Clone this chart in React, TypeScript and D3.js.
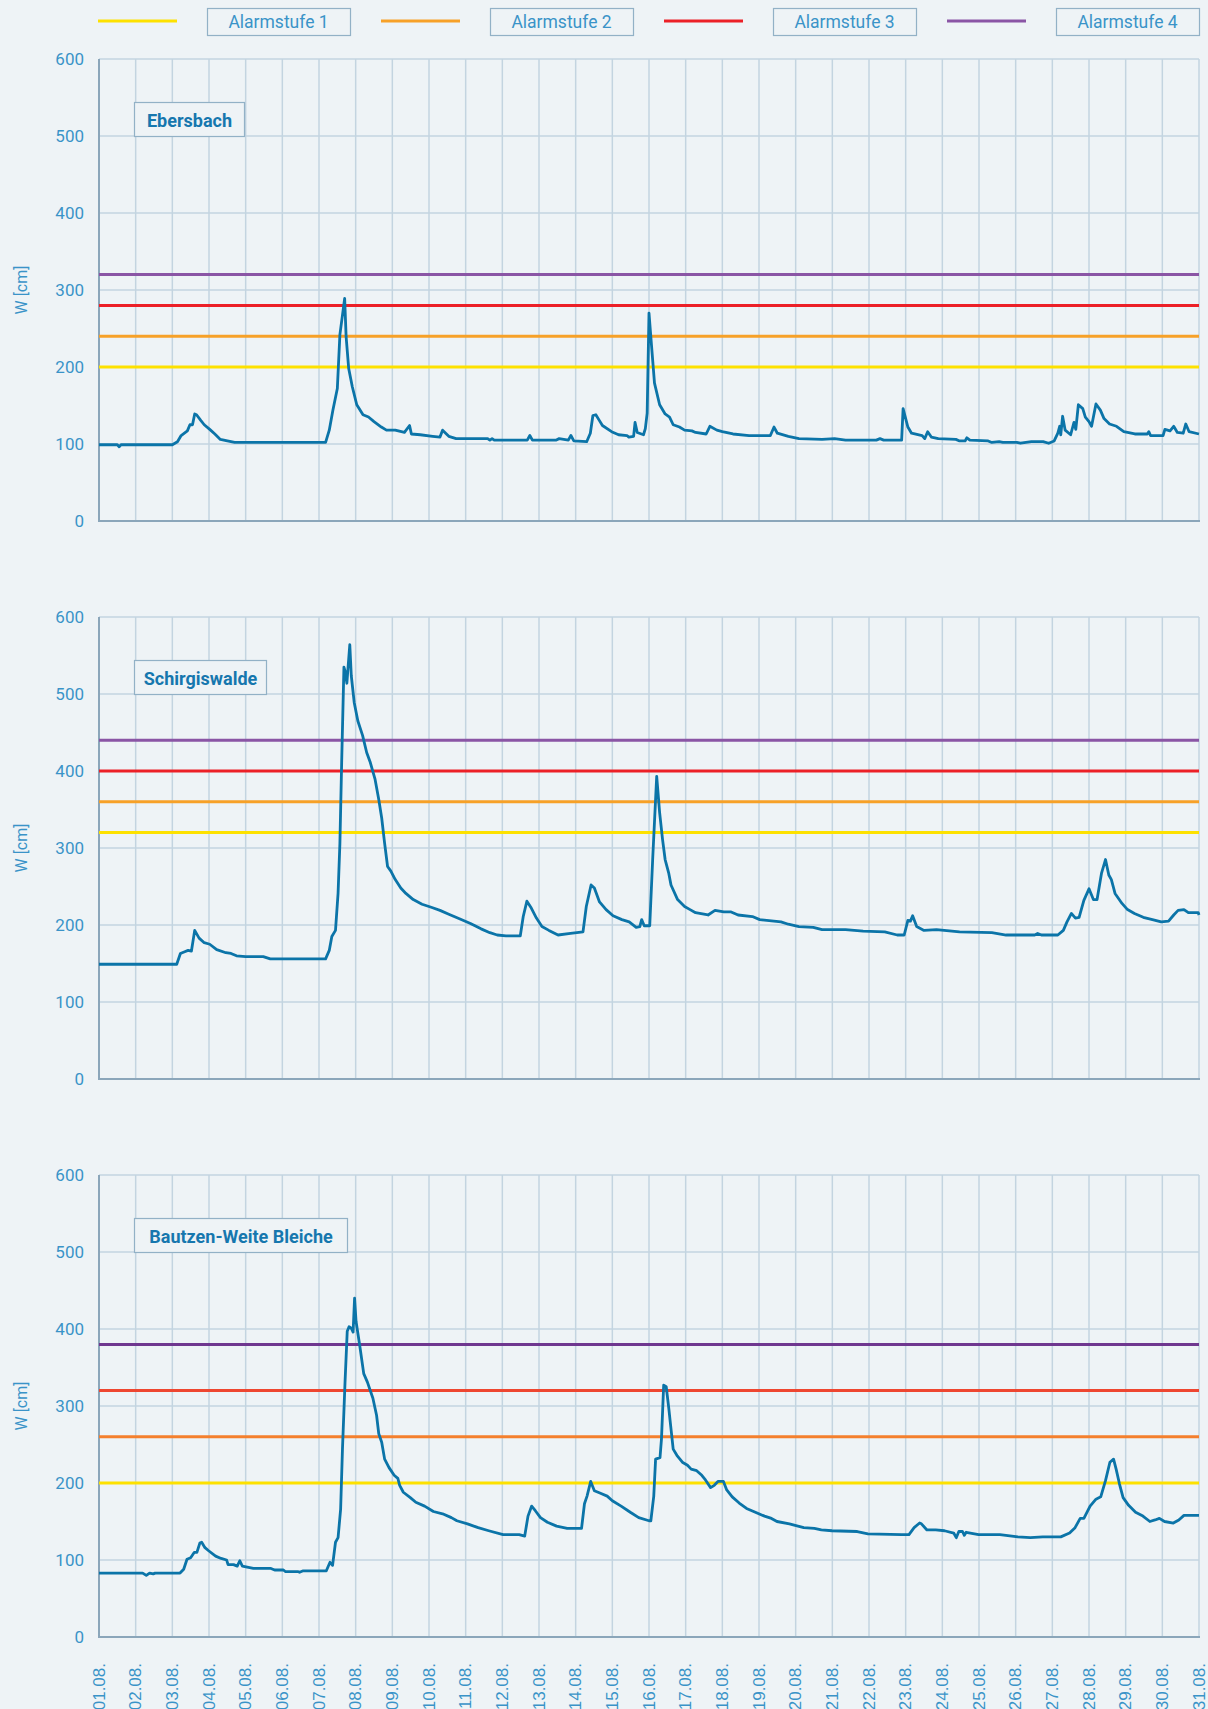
import { useEffect, useRef } from 'react'
import * as d3 from 'd3'

// ── Data (day offset from 01.08., water level W in cm) ───────────────────
const ebersbach: [number, number][] = [
  [0, 99], [0.5, 99], [0.55, 96.5], [0.6, 99], [2.0, 99], [2.14, 103], [2.24, 111], [2.41, 117], [2.48, 125],
  [2.55, 125], [2.61, 139], [2.66, 138], [2.77, 131], [2.87, 125], [3.02, 119], [3.16, 113], [3.31, 106],
  [3.5, 104], [3.7, 102], [6.18, 102], [6.28, 118], [6.38, 144], [6.5, 172], [6.57, 242], [6.7, 289],
  [6.74, 239], [6.81, 198], [6.91, 174], [7.03, 151], [7.2, 138], [7.35, 135], [7.5, 129], [7.7, 122],
  [7.84, 118], [8.08, 118], [8.33, 115], [8.47, 124], [8.52, 113], [8.76, 112], [9.1, 110], [9.3, 109],
  [9.37, 118], [9.54, 110], [9.74, 107], [10.6, 107], [10.66, 105], [10.72, 107], [10.78, 105], [11.68, 105],
  [11.75, 111], [11.82, 105], [12.46, 105], [12.55, 107], [12.8, 105], [12.87, 111], [12.95, 104], [13.3, 103],
  [13.4, 114], [13.47, 137], [13.55, 138], [13.64, 131], [13.73, 124], [13.98, 116], [14.17, 112], [14.4, 111],
  [14.45, 109], [14.58, 110], [14.62, 128], [14.68, 115], [14.85, 112], [14.9, 120], [14.95, 140], [15.0, 270],
  [15.05, 239], [15.15, 179], [15.29, 151], [15.44, 139], [15.56, 135], [15.66, 125], [15.83, 122], [15.97, 118],
  [16.17, 117], [16.27, 115], [16.56, 113], [16.66, 123], [16.85, 118], [17.0, 116], [17.29, 113], [17.73, 111],
  [18.31, 111], [18.41, 122], [18.5, 114], [18.8, 110], [19.09, 107], [19.72, 106], [20.06, 107], [20.36, 105],
  [21.2, 105], [21.3, 107], [21.4, 105], [21.89, 105], [21.93, 146], [22.06, 122], [22.16, 114], [22.45, 111],
  [22.52, 107], [22.6, 116], [22.7, 109], [22.89, 107], [23.37, 106], [23.47, 104], [23.62, 104], [23.67, 108],
  [23.75, 105], [24.25, 104], [24.35, 102], [24.55, 103], [24.65, 102], [25.03, 102], [25.13, 101], [25.43, 103],
  [25.75, 103], [25.9, 101], [26.05, 104], [26.15, 114], [26.2, 123], [26.23, 112], [26.28, 136], [26.35, 118],
  [26.5, 112], [26.59, 128], [26.64, 119], [26.71, 151], [26.83, 146], [26.9, 135], [27.0, 129], [27.07, 123],
  [27.19, 152], [27.31, 144], [27.41, 133], [27.56, 126], [27.75, 123], [27.95, 116], [28.25, 113], [28.59, 113],
  [28.63, 116], [28.68, 111], [29.02, 111], [29.07, 119], [29.21, 117], [29.31, 123], [29.41, 115], [29.57, 114],
  [29.64, 126], [29.73, 116], [30.0, 113],
]

const schirgiswalde: [number, number][] = [
  [0, 149], [2.12, 149], [2.22, 163], [2.32, 165], [2.43, 167], [2.52, 166], [2.61, 193], [2.73, 183], [2.87, 177],
  [3.02, 175], [3.21, 168], [3.46, 164], [3.6, 163], [3.75, 160], [4.0, 159], [4.48, 159], [4.67, 156], [6.18, 156],
  [6.28, 167], [6.35, 185], [6.45, 193], [6.52, 241], [6.57, 306], [6.62, 415], [6.68, 535], [6.72, 528],
  [6.76, 514], [6.84, 564], [6.88, 524], [6.96, 489], [7.06, 465], [7.19, 446], [7.3, 424], [7.4, 411],
  [7.53, 389], [7.63, 363], [7.71, 339], [7.79, 306], [7.87, 276], [7.96, 270], [8.08, 259], [8.23, 248],
  [8.37, 241], [8.57, 233], [8.81, 227], [9.06, 223], [9.3, 219], [9.54, 214], [9.83, 208], [10.13, 202],
  [10.42, 195], [10.66, 190], [10.86, 187], [11.1, 186], [11.49, 186], [11.57, 211], [11.67, 231], [11.79, 222],
  [11.93, 209], [12.08, 198], [12.27, 193], [12.52, 187], [12.86, 189], [13.2, 191], [13.29, 224], [13.42, 252],
  [13.51, 248], [13.65, 230], [13.83, 220], [14.02, 212], [14.26, 207], [14.46, 204], [14.65, 197], [14.75, 198],
  [14.8, 207], [14.87, 199], [15.02, 199], [15.1, 285], [15.21, 393], [15.29, 346], [15.37, 311], [15.44, 285],
  [15.54, 267], [15.6, 252], [15.78, 233], [15.97, 224], [16.12, 220], [16.27, 216], [16.61, 213], [16.8, 219],
  [17.04, 217], [17.24, 217], [17.43, 213], [17.82, 211], [18.02, 207], [18.6, 204], [18.8, 201], [19.09, 198],
  [19.48, 197], [19.72, 194], [20.36, 194], [20.84, 192], [21.43, 191], [21.77, 187], [21.96, 187], [22.06, 206],
  [22.13, 205], [22.19, 212], [22.3, 198], [22.5, 193], [22.84, 194], [23.47, 191], [24.35, 190], [24.74, 187],
  [25.52, 187], [25.6, 189], [25.7, 187], [26.15, 187], [26.3, 193], [26.4, 204], [26.52, 215], [26.63, 209],
  [26.73, 210], [26.86, 232], [27.0, 247], [27.12, 233], [27.22, 233], [27.34, 267], [27.45, 285], [27.54, 265],
  [27.61, 259], [27.71, 241], [27.9, 228], [28.05, 220], [28.24, 215], [28.48, 210], [28.73, 207], [28.97, 204],
  [29.17, 205], [29.31, 213], [29.43, 219], [29.59, 220], [29.71, 216], [29.98, 216], [30.0, 213],
]

const bautzen: [number, number][] = [
  [0, 83], [1.19, 83], [1.29, 80], [1.38, 83], [1.48, 82], [1.53, 83], [2.21, 83], [2.31, 88], [2.4, 101],
  [2.5, 103], [2.6, 110], [2.67, 110], [2.75, 122], [2.8, 123], [2.89, 116], [2.99, 112], [3.18, 105],
  [3.33, 102], [3.48, 100], [3.52, 94], [3.67, 94], [3.77, 92], [3.84, 99], [3.91, 92], [4.21, 89], [4.69, 89],
  [4.79, 87], [5.03, 87], [5.08, 85], [5.42, 85], [5.47, 84], [5.57, 86], [6.2, 86], [6.3, 97], [6.37, 93],
  [6.45, 123], [6.52, 129], [6.59, 166], [6.64, 244], [6.71, 331], [6.77, 397], [6.82, 403], [6.88, 401],
  [6.93, 396], [6.97, 440], [7.01, 410], [7.11, 379], [7.22, 342], [7.32, 331], [7.47, 310], [7.57, 288],
  [7.63, 264], [7.71, 253], [7.79, 231], [7.91, 220], [8.05, 210], [8.15, 206], [8.2, 197], [8.3, 188],
  [8.49, 181], [8.64, 175], [8.88, 170], [9.12, 163], [9.37, 160], [9.61, 155], [9.76, 151], [10.05, 147],
  [10.34, 142], [10.63, 138], [11.02, 133], [11.46, 133], [11.61, 131], [11.7, 157], [11.8, 170], [11.9, 164],
  [12.04, 155], [12.23, 149], [12.48, 144], [12.77, 141], [13.16, 141], [13.24, 173], [13.31, 183], [13.41, 202],
  [13.51, 190], [13.66, 187], [13.86, 183], [14.0, 177], [14.24, 170], [14.49, 162], [14.72, 155], [15.0, 151],
  [15.05, 151], [15.13, 183], [15.18, 231], [15.3, 233], [15.34, 257], [15.4, 327], [15.47, 325], [15.54, 297],
  [15.58, 279], [15.66, 244], [15.76, 236], [15.91, 227], [16.05, 223], [16.15, 218], [16.3, 216], [16.44, 210],
  [16.54, 204], [16.68, 194], [16.78, 197], [16.88, 202], [17.03, 202], [17.12, 191], [17.27, 182], [17.46, 174],
  [17.66, 167], [17.9, 162], [18.15, 157], [18.34, 154], [18.49, 150], [18.83, 147], [19.22, 142], [19.51, 141],
  [19.7, 139], [19.99, 138], [20.68, 137], [20.97, 134], [21.89, 133], [22.09, 133], [22.23, 142], [22.38, 148],
  [22.43, 147], [22.58, 139], [22.82, 139], [23.06, 138], [23.31, 135], [23.38, 129], [23.45, 137], [23.55, 137],
  [23.6, 132], [23.65, 136], [23.99, 133], [24.57, 133], [25.06, 130], [25.4, 129], [25.74, 130], [26.23, 130],
  [26.47, 135], [26.62, 142], [26.76, 154], [26.86, 154], [27.03, 170], [27.19, 179], [27.32, 182], [27.45, 203],
  [27.57, 227], [27.67, 231], [27.74, 218], [27.83, 199], [27.93, 181], [28.08, 171], [28.27, 162], [28.47, 157],
  [28.66, 150], [28.8, 152], [28.92, 154], [29.06, 150], [29.3, 148], [29.45, 152], [29.59, 158], [30.0, 158],
]

const stations = ['Ebersbach', 'Schirgiswalde', 'Bautzen-Weite Bleiche']
const series = [ebersbach, schirgiswalde, bautzen]
// Alarmstufe 1..4 per station
const alarmLevels = [
  [200, 240, 280, 320],
  [320, 360, 400, 440],
  [200, 260, 320, 380],
]
const legendLabels = ['Alarmstufe 1', 'Alarmstufe 2', 'Alarmstufe 3', 'Alarmstufe 4']
const dayLabels = [
  '01.08.', '02.08.', '03.08.', '04.08.', '05.08.', '06.08.', '07.08.', '08.08.', '09.08.', '10.08.',
  '11.08.', '12.08.', '13.08.', '14.08.', '15.08.', '16.08.', '17.08.', '18.08.', '19.08.', '20.08.',
  '21.08.', '22.08.', '23.08.', '24.08.', '25.08.', '26.08.', '27.08.', '28.08.', '29.08.', '30.08.', '31.08.',
]
const yTicks = [0, 100, 200, 300, 400, 500, 600]

// ── Layout / style ───────────────────────────────────────────────────────
const W = 1208
const H = 1709
const X0 = 99
const X1 = 1199
const PANEL_TOP = [59, 617, 1175]
const PANEL_H = 462
const LABEL_BOX_W = [110, 132, 213]
const BG = '#eef3f6'
const GRID = '#c3d4e0'
const AXIS = '#8ba6ba'
const TXT = '#3a93c8'
const TXT_DARK = '#1677ae'
const LINE = '#0b74a8'
const ALARM_COLORS = [
  ['#fde100', '#f7a128', '#ec2027', '#8a55a5'],
  ['#fde100', '#f7a128', '#ec2027', '#8a55a5'],
  ['#fde100', '#f47f2d', '#ee4630', '#6f378f'],
]
const FONT = 'Roboto, "Open Sans", sans-serif'

function Chart() {
  const ref = useRef<SVGSVGElement>(null)

  useEffect(() => {
    if (!ref.current) return
    const svg = d3.select(ref.current)
    svg.selectAll('*').remove()

    svg.append('rect').attr('width', W).attr('height', H).attr('fill', BG)

    const x = d3.scaleLinear().domain([0, 30]).range([X0, X1])

    // ── Legend ────────────────────────────────────────────────────────
    const lg = svg.append('g')
    legendLabels.forEach((lab, i) => {
      const gx = 98 + i * 283
      lg.append('line')
        .attr('x1', gx).attr('x2', gx + 79)
        .attr('y1', 21).attr('y2', 21)
        .attr('stroke', ALARM_COLORS[0][i]).attr('stroke-width', 3)
      lg.append('rect')
        .attr('x', gx + 109.5).attr('y', 8.5)
        .attr('width', 143).attr('height', 27)
        .attr('fill', BG).attr('stroke', '#92b1c6').attr('stroke-width', 1.2)
      lg.append('text')
        .attr('x', gx + 109 + 71.5).attr('y', 22)
        .attr('text-anchor', 'middle').attr('dominant-baseline', 'central')
        .attr('font-family', FONT).attr('font-size', 17.5)
        .attr('fill', TXT)
        .text(lab)
    })

    // ── Panels ────────────────────────────────────────────────────────
    series.forEach((data, p) => {
      const top = PANEL_TOP[p]
      const y = d3.scaleLinear().domain([0, 600]).range([top + PANEL_H, top])
      const g = svg.append('g')

      // grid
      g.append('g').selectAll('line.v')
        .data(d3.range(1, 31))
        .join('line')
        .attr('x1', d => x(d)).attr('x2', d => x(d))
        .attr('y1', top).attr('y2', top + PANEL_H)
        .attr('stroke', GRID).attr('stroke-width', 1.5)
      g.append('g').selectAll('line.h')
        .data(yTicks.slice(1))
        .join('line')
        .attr('x1', X0).attr('x2', X1)
        .attr('y1', d => y(d)).attr('y2', d => y(d))
        .attr('stroke', GRID).attr('stroke-width', 1.5)

      // axes
      g.append('line')
        .attr('x1', X0).attr('x2', X0).attr('y1', top).attr('y2', top + PANEL_H + 1)
        .attr('stroke', AXIS).attr('stroke-width', 2)
      g.append('line')
        .attr('x1', X0).attr('x2', X1 + 1).attr('y1', top + PANEL_H).attr('y2', top + PANEL_H)
        .attr('stroke', AXIS).attr('stroke-width', 2)

      // y tick labels
      g.append('g').selectAll('text')
        .data(yTicks)
        .join('text')
        .attr('x', X0 - 15).attr('y', d => y(d))
        .attr('text-anchor', 'end').attr('dominant-baseline', 'central')
        .attr('font-family', FONT).attr('font-size', 17)
        .attr('fill', TXT)
        .text(d => d)

      g.append('text')
        .attr('transform', `translate(21,${top + PANEL_H / 2}) rotate(-90)`)
        .attr('text-anchor', 'middle').attr('dominant-baseline', 'central')
        .attr('font-family', FONT).attr('font-size', 16)
        .attr('fill', TXT)
        .text('W [cm]')

      // alarm levels
      g.append('g').selectAll('line')
        .data(alarmLevels[p])
        .join('line')
        .attr('x1', X0).attr('x2', X1)
        .attr('y1', d => y(d)).attr('y2', d => y(d))
        .attr('stroke', (_d, i) => ALARM_COLORS[p][i]).attr('stroke-width', 3)

      // water level
      const line = d3.line<[number, number]>()
        .x(d => x(d[0]))
        .y(d => y(d[1]))
      g.append('path')
        .datum(data)
        .attr('d', line)
        .attr('fill', 'none')
        .attr('stroke', LINE).attr('stroke-width', 2.8)
        .attr('stroke-linejoin', 'round')

      // station label
      const lbl = g.append('g')
      lbl.append('rect')
        .attr('x', 134.5).attr('y', top + 43.5)
        .attr('width', LABEL_BOX_W[p]).attr('height', 34)
        .attr('fill', BG).attr('stroke', '#92b1c6').attr('stroke-width', 1.2)
      lbl.append('text')
        .attr('x', 134.5 + LABEL_BOX_W[p] / 2).attr('y', top + 43 + 18)
        .attr('text-anchor', 'middle').attr('dominant-baseline', 'central')
        .attr('font-family', FONT).attr('font-size', 18).attr('font-weight', 700)
        .attr('fill', TXT_DARK)
        .text(stations[p])
    })

    // ── x labels ──────────────────────────────────────────────────────
    svg.append('g').selectAll('text')
      .data(dayLabels)
      .join('text')
      .attr('transform', (_d, i) => `translate(${x(i)},1663) rotate(-90)`)
      .attr('text-anchor', 'end').attr('dominant-baseline', 'central')
      .attr('font-family', '"Liberation Sans", Arial, sans-serif').attr('font-size', 17)
      .attr('fill', TXT)
      .text(d => d)
  }, [])

  return <svg ref={ref} width={W} height={H} viewBox={`0 0 ${W} ${H}`} style={{ display: 'block' }} />
}

export default function App() {
  return (
    <div style={{ position: 'absolute', left: 0, top: 0, width: W, height: H, overflow: 'hidden', background: BG }}>
      <Chart />
    </div>
  )
}
